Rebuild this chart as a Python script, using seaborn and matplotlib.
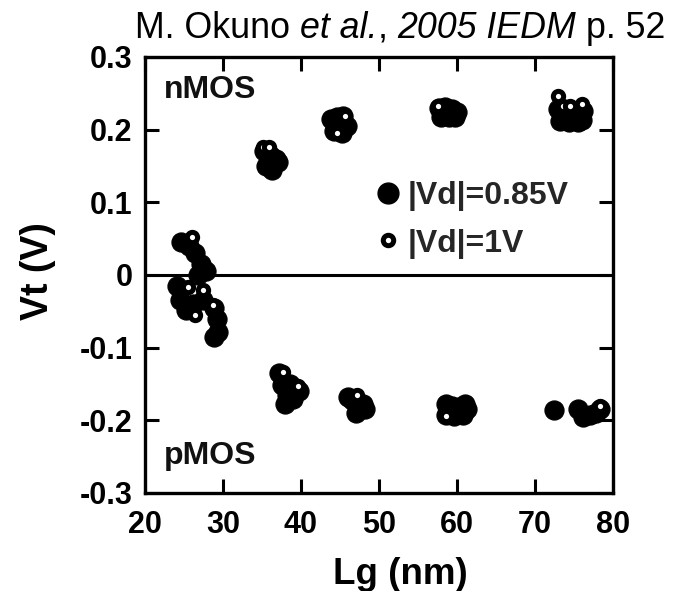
import numpy as np
import pandas as pd
import matplotlib
matplotlib.use("Agg")
import matplotlib.pyplot as plt
from matplotlib.lines import Line2D
from matplotlib import font_manager as fm
import seaborn as sns

# ---- data ----
# |Vd| = 0.85 V (filled)
lg_085 = [35.3, 36.0, 36.8, 35.5, 36.3, 37.1, 36.0,
          43.8, 44.6, 45.4, 45.9, 44.2, 45.2,
          57.7, 58.5, 59.3, 60.0, 58.0, 59.0, 59.8,
          72.9, 73.6, 74.5, 75.4, 76.1, 73.2, 74.3, 75.5, 76.0,
          24.6, 25.6, 26.4, 27.2, 27.8, 26.8, 24.1, 24.5, 25.2, 26.2, 27.4, 28.8, 29.2, 29.3, 28.9,
          37.2, 37.5, 38.2, 39.0, 39.8, 38.0, 38.6,
          46.0, 46.6, 47.4, 48.2, 47.0, 47.9,
          58.6, 59.3, 60.2, 61.0, 61.3, 58.6, 59.6, 60.8,
          72.4,
          75.5, 76.2, 77.0, 77.8, 78.3]
vt_085 = [0.170, 0.165, 0.160, 0.150, 0.145, 0.155, 0.158,
          0.214, 0.218, 0.219, 0.205, 0.198, 0.196,
          0.230, 0.231, 0.229, 0.224, 0.217, 0.217, 0.218,
          0.228, 0.222, 0.218, 0.220, 0.225, 0.212, 0.211, 0.211, 0.213,
          0.045, 0.040, 0.030, 0.015, 0.005, 0.000, -0.015, -0.035, -0.048, -0.040, -0.035, -0.045, -0.060, -0.078, -0.085,
          -0.135, -0.152, -0.165, -0.170, -0.160, -0.178, -0.150,
          -0.168, -0.172, -0.178, -0.185, -0.190, -0.178,
          -0.178, -0.180, -0.182, -0.177, -0.185, -0.193, -0.194, -0.192,
          -0.186,
          -0.185, -0.195, -0.192, -0.190, -0.184]
# |Vd| = 1 V (open)
lg_1 = [35.1, 35.9, 45.6, 44.6, 57.6, 73.0, 73.6, 74.5, 76.0,
        26.0, 25.5, 27.4, 28.7, 26.4,
        37.7, 39.6, 47.2, 58.6, 78.3]
vt_1 = [0.176, 0.176, 0.219, 0.195, 0.233, 0.247, 0.232, 0.232, 0.236,
        0.052, -0.017, -0.020, -0.041, -0.055,
        -0.133, -0.153, -0.165, -0.194, -0.180]

series_labels = ["|Vd|=0.85V", "|Vd|=1V"]
x_ticks = [20, 30, 40, 50, 60, 70, 80]
y_ticks = [-0.3, -0.2, -0.1, 0.0, 0.1, 0.2, 0.3]
y_tick_labels = ["-0.3", "-0.2", "-0.1", "0", "0.1", "0.2", "0.3"]

df085 = pd.DataFrame({"Lg": lg_085, "Vt": vt_085})
df1 = pd.DataFrame({"Lg": lg_1, "Vt": vt_1})

sns.set_theme(style="white")
plt.rcParams['font.family'] = ['Liberation Sans', 'DejaVu Sans']

W, H = 677, 591
fig = plt.figure(figsize=(W / 100, H / 100), dpi=100)
ax = fig.add_axes([145 / W, 1 - 493 / H, 468 / W, 436 / H])

sns.scatterplot(data=df085, x="Lg", y="Vt", ax=ax, s=190, color="black",
                edgecolor="black", linewidth=0.8, zorder=3, legend=False)
sns.scatterplot(data=df1, x="Lg", y="Vt", ax=ax, s=55, color="white",
                edgecolor="black", linewidth=3.6, zorder=4, legend=False)

ax.axhline(0, color="black", lw=2.2, zorder=2)

ax.set_xlim(20, 80)
ax.set_ylim(-0.3, 0.3)
ax.set_xticks(x_ticks)
ax.set_yticks(y_ticks)
ax.set_yticklabels(y_tick_labels)
for sp in ax.spines.values():
    sp.set_linewidth(2.4)
    sp.set_color("black")
    sp.set_visible(True)
ax.tick_params(direction="in", length=10, width=2.2, top=True, right=True,
               bottom=True, left=True, labelsize=22, pad=12, colors="black")
ax.tick_params(axis="y", pad=9)
for lab in ax.get_xticklabels() + ax.get_yticklabels():
    lab.set_fontweight("bold")
ax.tick_params(labeltop=False, labelright=False)

ax.set_xlabel("Lg (nm)", fontsize=26.5, fontweight="bold", color="black")
ax.set_ylabel("Vt (V)", fontsize=27, fontweight="bold", color="black")
ax.xaxis.set_label_coords(0.545, -0.147)
ax.yaxis.set_label_coords(-0.19, 0.51)

ax.text(0.04, 0.925, "nMOS", transform=ax.transAxes, fontsize=23,
        fontweight="bold", va="center", ha="left", color="#111111")
ax.text(0.04, 0.085, "pMOS", transform=ax.transAxes, fontsize=23,
        fontweight="bold", va="center", ha="left", color="#111111")

handles = [Line2D([], [], marker="o", ls="", color="black", markersize=15),
           Line2D([], [], marker="o", ls="", markerfacecolor="white",
                  markeredgecolor="black", markeredgewidth=3.6, markersize=7.5)]
leg = ax.legend(handles, series_labels, loc="upper left",
                bbox_to_anchor=(0.462, 0.745), frameon=False,
                prop={"size": 23, "weight": "bold"}, handletextpad=0.15,
                handlelength=0.9, labelspacing=0.55, borderaxespad=0)

# ---- title, built from pieces (regular / italic) ----
names = {f.name for f in fm.fontManager.ttflist}
tfam = 'Liberation Sans Narrow' if 'Liberation Sans Narrow' in names else 'Liberation Sans'
pieces = [("M. Okuno", "normal"), ("et al.", "italic"), (",", "normal"),
          ("2005 IEDM", "italic"), ("p. 52", "normal")]
gaps_before = [False, True, False, True, True]

fig.canvas.draw()
r = fig.canvas.get_renderer()


def place(size, commit):
    x = 135.0
    arts = []
    sp = fig.text(0, 0, "a a", fontsize=size, family=tfam)
    nsp = fig.text(0, 0, "aa", fontsize=size, family=tfam)
    space = sp.get_window_extent(r).width - nsp.get_window_extent(r).width
    sp.remove(); nsp.remove()
    for (txt, style), g in zip(pieces, gaps_before):
        if g:
            x += space
        t = fig.text(x / W, 1 - 38 / H, txt, fontsize=size, family=tfam,
                     style=style, ha="left", va="baseline", color="black")
        x += t.get_window_extent(r).width
        arts.append(t)
    if not commit:
        for t in arts:
            t.remove()
    return x - 135.0


w0 = place(28, False)
size = 28 * 530.0 / w0
place(size, True)

fig.savefig("out.png", dpi=100)
